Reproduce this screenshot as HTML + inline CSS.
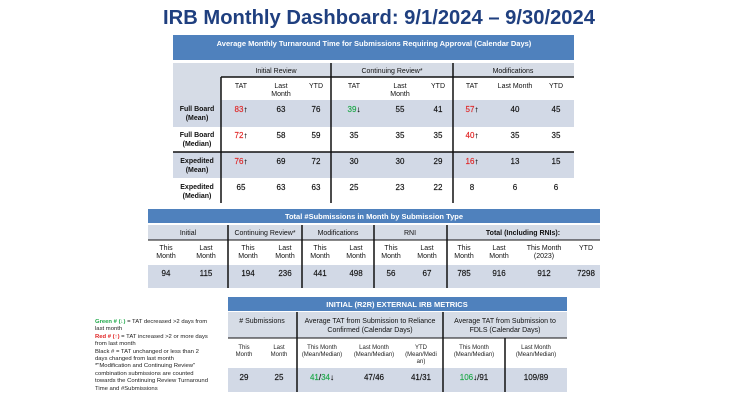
<!DOCTYPE html>
<html><head><meta charset="utf-8"><style>
html,body{margin:0;padding:0;background:#fff;width:750px;height:400px;overflow:hidden}
svg{display:block;font-family:"Liberation Sans",sans-serif}
.h{fill:#fff;font-weight:bold;font-size:7.5px}
.t{font-size:7px;fill:#111}
.n{font-size:8px;fill:#111;stroke:#111;stroke-width:0.15}
.b{font-weight:bold}
.a{font-weight:bold}
.r{fill:#e02424;stroke:#e02424}.g{fill:#1fa84a;stroke:#1fa84a}
.lg{fill:#1fa84a;font-weight:bold}.lr{fill:#e02424;font-weight:bold}
</style></head><body>
<svg width="750" height="400" viewBox="0 0 750 400" text-anchor="middle">
<text x="379" y="24" font-size="20" font-weight="bold" fill="#1f3f7f" textLength="432" lengthAdjust="spacingAndGlyphs">IRB Monthly Dashboard: 9/1/2024 – 9/30/2024</text>

<!-- TABLE 1 -->
<rect x="173" y="35" width="401" height="25" fill="#4f81bd"/>
<text class="h" x="374" y="46">Average Monthly Turnaround Time for Submissions Requiring Approval (Calendar Days)</text>
<rect x="173" y="63" width="401" height="14" fill="#d6dce6"/>
<rect x="173" y="77" width="48" height="23" fill="#d6dce6"/>
<rect x="173" y="100" width="401" height="27" fill="#d2d9e6"/>
<rect x="173" y="152" width="401" height="26" fill="#d2d9e6"/>
<g class="t">
<text x="276" y="73">Initial Review</text><text x="392" y="73">Continuing Review*</text><text x="513" y="73">Modifications</text>
<text x="241" y="88">TAT</text><text x="281" y="88">Last</text><text x="281" y="96">Month</text><text x="316" y="88">YTD</text>
<text x="354" y="88">TAT</text><text x="400" y="88">Last</text><text x="400" y="96">Month</text><text x="438" y="88">YTD</text>
<text x="472" y="88">TAT</text><text x="515" y="88">Last Month</text><text x="556" y="88">YTD</text>
</g>
<g class="t b">
<text x="197" y="111">Full Board</text><text x="197" y="120">(Mean)</text>
<text x="197" y="137">Full Board</text><text x="197" y="146">(Median)</text>
<text x="197" y="163">Expedited</text><text x="197" y="172">(Mean)</text>
<text x="197" y="189">Expedited</text><text x="197" y="198">(Median)</text>
</g>
<g class="n">
<text x="241" y="112"><tspan class="r">83</tspan><tspan class="a">↑</tspan></text><text x="281" y="112">63</text><text x="316" y="112">76</text>
<text x="354" y="112"><tspan class="g">39</tspan><tspan class="a">↓</tspan></text><text x="400" y="112">55</text><text x="438" y="112">41</text>
<text x="472" y="112"><tspan class="r">57</tspan><tspan class="a">↑</tspan></text><text x="515" y="112">40</text><text x="556" y="112">45</text>
<text x="241" y="138"><tspan class="r">72</tspan><tspan class="a">↑</tspan></text><text x="281" y="138">58</text><text x="316" y="138">59</text>
<text x="354" y="138">35</text><text x="400" y="138">35</text><text x="438" y="138">35</text>
<text x="472" y="138"><tspan class="r">40</tspan><tspan class="a">↑</tspan></text><text x="515" y="138">35</text><text x="556" y="138">35</text>
<text x="241" y="164"><tspan class="r">76</tspan><tspan class="a">↑</tspan></text><text x="281" y="164">69</text><text x="316" y="164">72</text>
<text x="354" y="164">30</text><text x="400" y="164">30</text><text x="438" y="164">29</text>
<text x="472" y="164"><tspan class="r">16</tspan><tspan class="a">↑</tspan></text><text x="515" y="164">13</text><text x="556" y="164">15</text>
<text x="241" y="190">65</text><text x="281" y="190">63</text><text x="316" y="190">63</text>
<text x="354" y="190">25</text><text x="400" y="190">23</text><text x="438" y="190">22</text>
<text x="472" y="190">8</text><text x="515" y="190">6</text><text x="556" y="190">6</text>
</g>
<g stroke="#111" stroke-width="1.5">
<line x1="221" y1="77" x2="221" y2="203"/><line x1="331" y1="63" x2="331" y2="203"/><line x1="453" y1="63" x2="453" y2="203"/>
<line x1="221" y1="77" x2="574" y2="77"/><line x1="173" y1="152" x2="574" y2="152"/>
</g>

<!-- TABLE 2 -->
<rect x="148" y="209" width="452" height="14" fill="#4f81bd"/>
<text class="h" x="374" y="219">Total #Submissions in Month by Submission Type</text>
<rect x="148" y="225" width="452" height="15" fill="#d6dce6"/>
<rect x="148" y="265" width="452" height="23" fill="#d2d9e6"/>
<g class="t">
<text x="188" y="235">Initial</text><text x="265" y="235">Continuing Review*</text><text x="338" y="235">Modifications</text><text x="410" y="235">RNI</text>
<text x="523" y="235" class="b">Total (Including RNIs):</text>
<text x="166" y="250">This</text><text x="166" y="258">Month</text><text x="206" y="250">Last</text><text x="206" y="258">Month</text>
<text x="248" y="250">This</text><text x="248" y="258">Month</text><text x="285" y="250">Last</text><text x="285" y="258">Month</text>
<text x="320" y="250">This</text><text x="320" y="258">Month</text><text x="356" y="250">Last</text><text x="356" y="258">Month</text>
<text x="391" y="250">This</text><text x="391" y="258">Month</text><text x="427" y="250">Last</text><text x="427" y="258">Month</text>
<text x="464" y="250">This</text><text x="464" y="258">Month</text><text x="499" y="250">Last</text><text x="499" y="258">Month</text>
<text x="544" y="250">This Month</text><text x="544" y="258">(2023)</text><text x="586" y="250">YTD</text>
</g>
<g class="n">
<text x="166" y="276">94</text><text x="206" y="276">115</text><text x="248" y="276">194</text><text x="285" y="276">236</text>
<text x="320" y="276">441</text><text x="356" y="276">498</text><text x="391" y="276">56</text><text x="427" y="276">67</text>
<text x="464" y="276">785</text><text x="499" y="276">916</text><text x="544" y="276">912</text><text x="586" y="276">7298</text>
</g>
<g stroke="#111" stroke-width="1.5">
<line x1="228" y1="225" x2="228" y2="288"/><line x1="302" y1="225" x2="302" y2="288"/><line x1="374" y1="225" x2="374" y2="288"/><line x1="447" y1="225" x2="447" y2="288"/>
<line x1="148" y1="240" x2="600" y2="240" stroke-width="1"/>
</g>

<!-- TABLE 3 -->
<rect x="228" y="297" width="339" height="14" fill="#4f81bd"/>
<text class="h" x="397" y="307">INITIAL (R2R) EXTERNAL IRB METRICS</text>
<rect x="228" y="312" width="339" height="26" fill="#d6dce6"/>
<rect x="228" y="368" width="339" height="24" fill="#d2d9e6"/>
<g class="t">
<text x="262" y="323">#&#160;Submissions</text>
<text x="370" y="323">Average TAT from Submission to Reliance</text><text x="370" y="332">Confirmed (Calendar Days)</text>
<text x="505" y="323">Average TAT from Submission to</text><text x="505" y="332">FDLS (Calendar Days)</text>
</g>
<g font-size="6" fill="#222">
<text x="244" y="349">This</text><text x="244" y="356">Month</text><text x="279" y="349">Last</text><text x="279" y="356">Month</text>
<text x="322" y="349">This Month</text><text x="322" y="356">(Mean/Median)</text>
<text x="374" y="349">Last Month</text><text x="374" y="356">(Mean/Median)</text>
<text x="421" y="349">YTD</text><text x="421" y="356">(Mean/Medi</text><text x="421" y="363">an)</text>
<text x="474" y="349">This Month</text><text x="474" y="356">(Mean/Median)</text>
<text x="536" y="349">Last Month</text><text x="536" y="356">(Mean/Median)</text>
</g>
<g class="n">
<text x="244" y="380">29</text><text x="279" y="380">25</text>
<text x="322" y="380"><tspan class="g">41</tspan>/<tspan class="g">34</tspan><tspan class="a">↓</tspan></text>
<text x="374" y="380">47/46</text><text x="421" y="380">41/31</text>
<text x="474" y="380"><tspan class="g">106</tspan><tspan class="a">↓</tspan>/91</text><text x="536" y="380">109/89</text>
</g>
<g stroke="#111" stroke-width="1.5">
<line x1="297" y1="312" x2="297" y2="392"/><line x1="443" y1="312" x2="443" y2="392"/><line x1="505" y1="338" x2="505" y2="392"/>
<line x1="228" y1="338" x2="567" y2="338" stroke-width="1"/>
</g>

<!-- legend -->
<g font-size="5.9" fill="#222" text-anchor="start">
<text x="95" y="323"><tspan class="lg">Green # (↓)</tspan> = TAT decreased &gt;2 days from</text>
<text x="95" y="330">last month</text>
<text x="95" y="338"><tspan class="lr">Red # (↑)</tspan> = TAT increased &gt;2 or more days</text>
<text x="95" y="345">from last month</text>
<text x="95" y="353">Black # = TAT unchanged or less than 2</text>
<text x="95" y="360">days changed from last month</text>
<text x="95" y="367">*"Modification and Continuing Review"</text>
<text x="95" y="375">combination submissions are counted</text>
<text x="95" y="382">towards the Continuing Review Turnaround</text>
<text x="95" y="390">Time and #Submissions</text>
</g>
</svg>
</body></html>
